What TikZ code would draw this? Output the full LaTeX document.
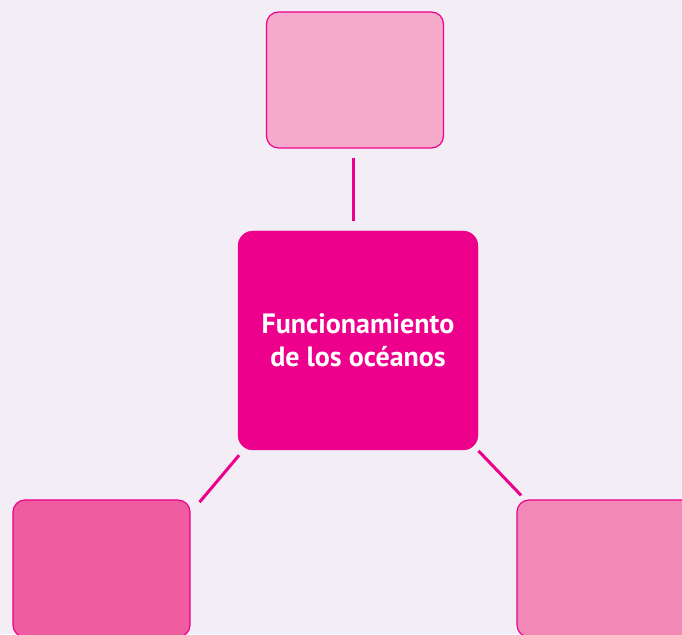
\documentclass[tikz,border=0pt]{standalone}
\usepackage{fontspec}
\setmainfont{PT Sans}
\usetikzlibrary{calc}
\definecolor{bgc}{HTML}{F3EEF5}
\definecolor{mag}{HTML}{EC008C}
\definecolor{topc}{HTML}{F6ABCD}
\definecolor{blc}{HTML}{EF5DA0}
\definecolor{brc}{HTML}{F288B5}
\tikzset{
  leaf/.style={draw=mag, line width=1.2pt, rounded corners=12pt, minimum width=177pt, minimum height=136pt, inner sep=0pt},
  hub/.style={fill=mag, draw=mag, rounded corners=15pt, minimum width=240pt, minimum height=219pt, inner sep=0pt, text=white, align=center, font=\bfseries\fontsize{28}{33}\selectfont},
  link/.style={draw=mag, line width=3pt}
}
\begin{document}
\begin{tikzpicture}[x=1pt,y=1pt]
\fill[bgc] (0,0) rectangle (682,634);
\useasboundingbox (0,0) rectangle (682,634);
\node[hub] (center) at (358,293.5) {};
\node[text=white, align=center, font=\bfseries\fontsize{28}{33}\selectfont, inner sep=0pt] (label) at (358,294) {Funcionamiento\\de los océanos};
\node[leaf, fill=topc] (top) at (355,554) {};
\node[leaf, fill=blc, minimum height=137pt] (bl) at (101.5,65.5) {};
\node[leaf, fill=brc, minimum height=137pt] (br) at (605.5,65.5) {};
\draw[link] ($(top.south)+(-1.5,-9)$) -- ($(center.north)+(-4.5,10)$);
\draw[link] ($(center.south west)+(1.3,-5)$) -- ($(bl.north east)+(9,-2.7)$);
\draw[link] ($(center.south east)+(0.3,-0.7)$) -- ($(br.north west)+(4.7,4)$);
\end{tikzpicture}
\end{document}
